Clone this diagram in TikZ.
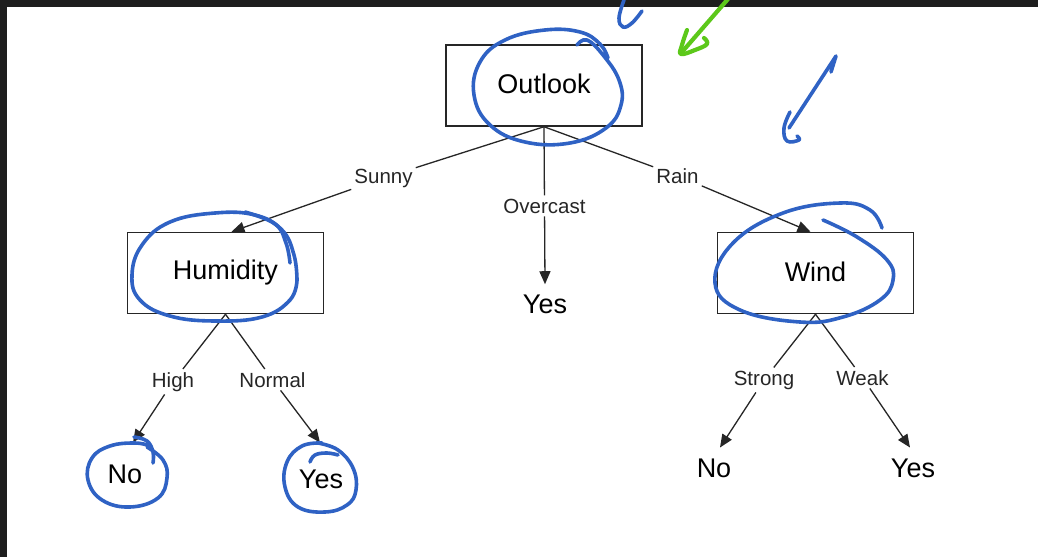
\documentclass[tikz,border=0pt]{standalone}
\usepackage{fontspec}
\setmainfont{Liberation Sans}
\usetikzlibrary{arrows.meta}
\definecolor{penblue}{HTML}{2F62C4}
\definecolor{pengreen}{HTML}{5CC81A}
\definecolor{frame}{HTML}{1E1E1E}
\definecolor{ink}{HTML}{262626}

\begin{document}
\begin{tikzpicture}[x=1pt,y=-1pt,
    attr/.style={draw=ink,line width=1.5pt,minimum width=196pt,minimum height=81pt,
      font=\fontsize{27}{27}\selectfont},
    leaf/.style={inner sep=0pt,anchor=base,font=\fontsize{27}{27}\selectfont},
    elabel/.style={inner sep=3pt,anchor=base,text=ink,font=\fontsize{20.5}{20.5}\selectfont},
    arrow/.style={draw=ink,line width=1.3pt,-{Triangle[length=13pt,width=11pt]}},
    pen/.style={line width=3.6pt,line cap=round,line join=round}]
    \useasboundingbox (0,0) rectangle (1038,557);
    \fill[white] (0,0) rectangle (1038,557);
    \fill[frame] (0,0) rectangle (1038,7);
    \fill[frame] (0,0) rectangle (7,557);
    % attribute boxes
    \node[attr] (outlook) at (544,85.5) {\raisebox{3pt}{Outlook}};
    \node[attr] (humidity) at (225.5,273) {\raisebox{2pt}{Humidity}};
    \node[attr] (wind) at (815.5,273) {\raisebox{3pt}{Wind}};
    % leaves
    \node[leaf] (yes1) at (545,313) {Yes};
    \node[leaf] (no1) at (125,483) {No};
    \node[leaf] (yes2) at (321,488) {Yes};
    \node[leaf] (no2) at (714,477) {No};
    \node[leaf] (yes3) at (913,477) {Yes};
    % branch values
    \node[elabel] (sunny) at (383.5,183) {Sunny};
    \node[elabel] (overcast) at (544.5,213) {Overcast};
    \node[elabel] (rain) at (677.5,183) {Rain};
    \node[elabel] (high) at (173,387) {High};
    \node[elabel] (normal) at (272.5,387) {Normal};
    \node[elabel] (strong) at (764,385) {Strong};
    \node[elabel] (weak) at (862.5,385) {Weak};
    \foreach \from/\via/\to/\dx/\dy in {outlook/sunny/humidity/6/0,
        outlook/overcast/yes1/0/-10, outlook/rain/wind/-5/0,
        humidity/high/no1/8/-21.7, humidity/normal/yes2/-1/-26.7,
        wind/strong/no2/6/-10.7, wind/weak/yes3/-3/-10.7}
      \draw[arrow] (\from.south) -- (\via) -- ([shift={(\dx,\dy)}]\to.north);
    % pen marks
    \draw[pen,penblue] plot[smooth,tension=.7] coordinates {(577,45) (587,40) (603,55)
      (619,80) (621,105) (606,128) (570,143) (525,142) (490,125) (474,95) (480,62)
      (505,40) (545,30) (580,32) (600,44) (608,58)};
    \draw[pen,penblue] plot[smooth,tension=.7] coordinates {(245,212) (275,224) (286,243) (290,263)};
    \draw[pen,penblue] plot[smooth,tension=.7] coordinates {(297,280) (290,300) (262,317)
      (215,321) (170,316) (140,300) (132,275) (142,245) (170,222) (215,213) (255,215)
      (282,230) (294,255) (297,280)};
    \draw[pen,penblue] plot[smooth,tension=.7] coordinates {(823,220) (857,237) (887,260)
      (893,280) (880,300) (843,317) (800,322) (740,310) (715,283) (733,243) (783,213)
      (840,203) (870,210) (882,228)};
    \draw[pen,penblue] plot[smooth,tension=.7] coordinates {(134,437) (147,441) (153,452) (153,463)};
    \draw[pen,penblue] plot[smooth,tension=.7] coordinates {(147,447) (163,460) (167,478)
      (158,498) (130,507) (102,500) (88,480) (92,458) (110,446) (135,443) (150,446)};
    \draw[pen,penblue] plot[smooth,tension=.7] coordinates {(310,462) (315,455) (327,453) (338,455)};
    \draw[pen,penblue] plot[smooth,tension=.7] coordinates {(318,443) (338,450) (353,468)
      (356,490) (347,505) (325,512) (298,507) (285,487) (287,462) (302,446) (322,443)};
    \draw[pen,penblue] plot[smooth,tension=.7] coordinates {(624,0) (619,18) (623,27) (632,23) (642,11)};
    \draw[pen,penblue] (831,72) -- (836,56) -- (789,128);
    \draw[pen,penblue] plot[smooth,tension=.7] coordinates {(790,112) (784,128) (787,141)
      (799,140) (797,136)};
    \draw[pen,pengreen,line width=4.2pt] (728,-1) -- (682,52);
    \draw[pen,pengreen,line width=4.2pt] plot[smooth,tension=.7] coordinates {(687,30) (682,45)
      (681,54) (695,50) (707,44) (704,38)};
\end{tikzpicture}
\end{document}
